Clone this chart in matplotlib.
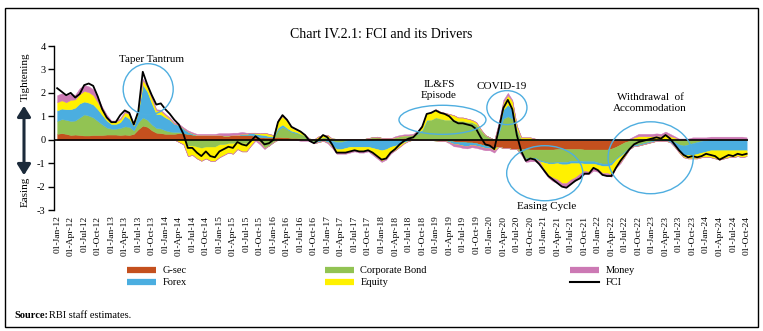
import matplotlib
matplotlib.use("Agg")
import matplotlib.pyplot as plt
import numpy as np
from matplotlib.patches import Ellipse, Rectangle, FancyArrowPatch
from matplotlib.lines import Line2D

plt.rcParams['font.family'] = ['Liberation Serif', 'DejaVu Serif']
plt.rcParams['axes.unicode_minus'] = False

# ---------------- data (monthly, Jan-2012 .. Oct-2024) ----------------
gsec = [0.25,0.28,0.25,0.2,0.22,0.2,0.18,0.18,0.2,0.2,0.2,0.22,
        0.22,0.22,0.2,0.22,0.2,0.25,0.45,0.6,0.55,0.4,0.3,0.28,
        0.25,0.25,0.25,0.28,0.28,0.25,0.22,0.2,0.2,0.2,0.2,0.2,
        0.2,0.18,0.18,0.2,0.2,0.2,0.2,0.2,0.15,0.12,0.1,0.1,
        0.1,0.12,0.1,0.1,0.08,0.08,0.05,0.02,0.0,0.02,0.05,0.05,
        0.05,0.05,0.04,0.03,0.02,0.02,0.02,0.02,0.03,0.05,0.06,0.08,
        0.08,0.08,0.06,0.05,0.05,0.08,0.08,0.06,0.05,0.03,0.0,-0.02,
        -0.03,-0.05,-0.05,-0.05,-0.08,-0.1,-0.1,-0.12,-0.12,-0.15,-0.2,-0.25,
        -0.3,-0.35,-0.3,-0.35,-0.35,-0.4,-0.4,-0.4,-0.4,-0.42,-0.42,-0.42,
        -0.42,-0.42,-0.42,-0.4,-0.4,-0.4,-0.4,-0.4,-0.4,-0.42,-0.42,-0.42,
        -0.42,-0.42,-0.42,-0.38,-0.3,-0.2,-0.1,-0.05,-0.02,0.0,0.0,0.0,
        0.0,0.02,0.0,0.0,0.0,0.0,0.0,0.0,0.0,0.0,0.0,0.0,
        0.0,0.0,0.0,0.0,0.0,0.0,0.0,0.0,0.0,0.0]

corp_bond = [0.55,0.6,0.6,0.6,0.6,0.75,0.9,0.85,0.75,0.6,0.45,0.3,
             0.25,0.25,0.3,0.35,0.35,0.15,0.3,0.35,0.3,0.25,0.2,0.2,
             0.15,0.1,0.08,0.05,0.0,-0.25,-0.25,-0.3,-0.35,-0.3,-0.3,-0.3,
             -0.2,-0.2,-0.15,-0.15,-0.1,-0.15,-0.15,-0.05,0.0,-0.1,-0.35,-0.25,
             -0.1,0.3,0.45,0.35,0.25,0.2,0.2,0.15,0.05,-0.1,-0.05,0.05,
             0.05,-0.05,-0.1,-0.1,-0.05,0.0,0.0,0.0,0.0,0.02,0.05,0.05,
             0.0,0.0,0.0,0.05,0.1,0.1,0.1,0.15,0.2,0.35,0.8,0.85,
             0.95,0.9,0.85,0.85,0.85,0.8,0.8,0.75,0.75,0.65,0.4,0.2,
             0.1,0.0,0.3,0.9,1.0,0.9,0.4,-0.2,-0.4,-0.35,-0.35,-0.45,
             -0.5,-0.55,-0.55,-0.55,-0.55,-0.55,-0.5,-0.5,-0.5,-0.5,-0.5,-0.5,
             -0.55,-0.6,-0.6,-0.6,-0.5,-0.45,-0.4,-0.3,-0.2,-0.2,-0.15,-0.1,
             -0.05,0.0,0.0,0.05,0.0,-0.1,-0.2,-0.25,-0.2,-0.15,-0.1,-0.05,
             0.0,0.03,0.03,0.03,0.03,0.03,0.03,0.03,0.03,0.0]

forex = [0.45,0.45,0.45,0.5,0.55,0.6,0.55,0.55,0.55,0.5,0.4,0.3,
         0.2,0.2,0.25,0.45,0.35,0.2,0.45,1.4,1.2,0.9,0.6,0.6,
         0.55,0.5,0.35,0.3,0.2,0.1,0.05,0.0,0.0,0.0,0.0,0.0,
         0.0,0.0,0.0,0.0,0.0,0.05,0.05,0.1,0.1,0.1,0.1,0.05,
         0.05,0.1,0.1,0.05,0.05,0.05,0.0,0.0,0.0,-0.05,-0.05,-0.05,
         -0.1,-0.2,-0.3,-0.3,-0.3,-0.3,-0.3,-0.3,-0.3,-0.3,-0.35,-0.4,
         -0.45,-0.4,-0.3,-0.25,-0.2,-0.1,-0.05,0.0,0.05,0.05,0.05,0.0,
         0.0,0.0,0.0,-0.05,-0.1,-0.1,-0.15,-0.15,-0.1,-0.1,-0.1,-0.1,
         -0.05,0.0,0.2,0.4,0.5,0.4,0.05,0.0,-0.05,-0.05,-0.05,-0.05,
         -0.05,-0.05,-0.05,-0.05,-0.1,-0.1,-0.1,-0.1,-0.1,-0.1,-0.1,-0.1,
         -0.1,-0.1,-0.1,-0.1,-0.05,-0.05,-0.05,-0.05,-0.05,-0.05,-0.05,-0.05,
         -0.05,-0.05,-0.05,-0.05,-0.1,-0.2,-0.3,-0.4,-0.45,-0.5,-0.5,-0.5,
         -0.5,-0.45,-0.45,-0.45,-0.45,-0.45,-0.45,-0.45,-0.45,-0.45]

equity = [0.35,0.35,0.3,0.4,0.35,0.4,0.45,0.45,0.4,0.3,0.2,0.15,
          0.1,0.1,0.12,0.15,0.2,0.05,0.1,0.2,0.2,0.2,0.15,0.15,
          0.1,0.05,0.0,-0.1,-0.2,-0.45,-0.4,-0.5,-0.55,-0.5,-0.6,-0.6,
          -0.55,-0.45,-0.4,-0.45,-0.3,-0.35,-0.35,-0.2,0.05,0.05,0.1,0.1,
          0.05,0.3,0.35,0.3,0.15,0.1,0.1,0.05,0.0,0.0,0.1,0.1,
          0.1,-0.05,-0.15,-0.15,-0.2,-0.2,-0.15,-0.2,-0.2,-0.15,-0.25,-0.35,
          -0.45,-0.4,-0.25,-0.2,-0.1,-0.05,0.0,0.0,0.05,0.2,0.3,0.3,
          0.35,0.3,0.3,0.25,0.2,0.15,0.15,0.15,0.1,0.1,0.05,0.0,
          0.0,-0.1,0.2,0.3,0.4,0.35,0.15,0.1,0.1,0.1,0.05,0.0,
          -0.3,-0.5,-0.6,-0.7,-0.8,-0.8,-0.7,-0.6,-0.45,-0.3,-0.35,-0.2,
          -0.2,-0.3,-0.3,-0.4,-0.3,-0.25,-0.15,0.0,0.1,0.15,0.15,0.15,
          0.15,0.15,0.15,0.2,0.15,0.1,-0.05,-0.1,-0.15,-0.15,-0.2,-0.2,
          -0.25,-0.3,-0.35,-0.4,-0.35,-0.3,-0.3,-0.25,-0.3,-0.25]

money = [0.3,0.3,0.3,0.25,0.2,0.25,0.25,0.25,0.25,0.2,0.15,0.1,
         0.05,0.05,0.05,0.05,0.05,0.05,0.05,0.05,0.05,0.05,0.05,0.05,
         0.05,0.05,0.05,0.05,0.05,0.05,0.05,0.05,0.05,0.05,0.05,0.05,
         0.08,0.1,0.1,0.1,0.1,0.08,0.05,0.0,-0.05,-0.1,-0.05,0.0,
         0.0,0.05,0.05,0.05,0.0,0.0,-0.05,-0.05,-0.05,0.0,0.0,0.0,
         -0.05,-0.05,-0.05,-0.05,-0.05,-0.05,-0.05,-0.05,-0.05,-0.05,-0.05,-0.05,
         -0.05,-0.05,-0.05,0.05,0.05,0.05,0.05,0.05,0.05,0.0,0.0,0.0,
         0.0,0.0,0.0,-0.05,-0.1,-0.1,-0.1,-0.1,-0.1,-0.1,-0.1,-0.1,
         -0.1,-0.1,0.05,0.1,0.1,0.05,0.0,-0.05,-0.1,-0.1,-0.1,-0.1,
         -0.1,-0.1,-0.15,-0.15,-0.15,-0.15,-0.15,-0.15,-0.15,-0.15,-0.1,-0.1,
         -0.1,-0.1,-0.1,-0.1,-0.05,-0.05,0.0,0.05,0.05,0.1,0.1,0.1,
         0.1,0.1,0.1,0.1,0.1,0.05,0.05,0.05,0.05,0.1,0.1,0.1,
         0.1,0.1,0.1,0.1,0.1,0.1,0.1,0.1,0.1,0.1]

fci = [2.2,2.05,1.9,2.0,1.8,1.95,2.33,2.4,2.3,1.85,1.3,0.95,
       0.75,0.75,1.05,1.25,1.15,0.65,1.2,2.9,2.35,1.9,1.5,1.55,
       1.3,1.1,0.85,0.65,0.25,-0.35,-0.35,-0.55,-0.7,-0.5,-0.7,-0.75,
       -0.5,-0.4,-0.3,-0.35,-0.1,-0.2,-0.25,-0.05,0.15,0.0,-0.2,-0.15,
       0.0,0.75,1.05,0.85,0.55,0.45,0.35,0.2,-0.05,-0.15,0.0,0.2,
       0.1,-0.2,-0.55,-0.55,-0.55,-0.5,-0.45,-0.5,-0.5,-0.45,-0.55,-0.7,
       -0.85,-0.8,-0.55,-0.4,-0.2,-0.05,0.05,0.1,0.3,0.55,1.1,1.15,
       1.25,1.15,1.1,1.0,0.8,0.7,0.7,0.65,0.6,0.45,0.1,-0.2,
       -0.25,-0.4,0.45,1.35,1.7,1.3,0.2,-0.5,-0.9,-0.8,-0.85,-1.05,
       -1.3,-1.55,-1.7,-1.85,-2.0,-2.05,-1.9,-1.75,-1.65,-1.45,-1.45,-1.2,
       -1.3,-1.5,-1.55,-1.55,-1.2,-0.9,-0.65,-0.4,-0.2,-0.1,-0.05,0.0,
       0.05,0.1,0.05,0.2,0.05,-0.2,-0.45,-0.65,-0.75,-0.7,-0.75,-0.7,
       -0.6,-0.65,-0.7,-0.85,-0.75,-0.65,-0.7,-0.6,-0.65,-0.6]

months = np.arange(len(fci))
tick_labels = [f"01-{m}-{y:02d}" for y in range(12, 25) for m in ("Jan", "Apr", "Jul", "Oct")]
tick_pos = months[::3]

# ---------------- styling ----------------
colors = {"G-sec": "#C4501E", "Corporate Bond": "#92C353", "Forex": "#4BAEE0",
          "Equity": "#FFF100", "Money": "#CC79B4"}
ell_color = "#4FAEE0"

fig = plt.figure(figsize=(7.63, 3.31), dpi=100)
ax = fig.add_axes([54/763, 1-210/331, 694/763, 164/331])
ax.set_xlim(-0.7, 153.3)
ax.set_ylim(-3, 4)

stack = [("G-sec", gsec), ("Corporate Bond", corp_bond), ("Forex", forex),
         ("Equity", equity), ("Money", money)]
pos_base = np.zeros(len(months))
neg_base = np.zeros(len(months))
for name, vals in stack:
    v = np.asarray(vals, dtype=float)
    p = np.clip(v, 0, None)
    n = np.clip(v, None, 0)
    ax.fill_between(months, pos_base, pos_base + p, color=colors[name], lw=0.3, zorder=2)
    ax.fill_between(months, neg_base, neg_base + n, color=colors[name], lw=0.3, zorder=2)
    pos_base = pos_base + p
    neg_base = neg_base + n

ax.plot([-0.7, 153.3], [0, 0], color="black", lw=1.2, zorder=3)
ax.plot(months, fci, color="black", lw=1.3, zorder=4)

for s in ("top", "right", "bottom"):
    ax.spines[s].set_visible(False)
ax.spines["left"].set_linewidth(1.0)
ax.set_yticks(range(-3, 5))
ax.tick_params(axis="y", direction="out", length=4, width=1, labelsize=7.5, pad=2)
ax.set_xticks(tick_pos)
ax.set_xticklabels(tick_labels, rotation=90, fontsize=6.8)
ax.tick_params(axis="x", length=0, pad=4)

# ellipses and annotations
ellipses = [(20.2, 2.155, 11.1, 2.18), (85.5, 0.85, 19.3, 1.24), (99.8, 1.37, 8.9, 1.45),
            (108.2, -1.43, 16.9, 2.35), (131.7, -0.77, 18.9, 3.07)]
for cx, cy, w, h in ellipses:
    ax.add_patch(Ellipse((cx, cy), w, h, fill=False, ec=ell_color, lw=1.0, zorder=5))

notes = [(21.0, 3.44, "Taper Tantrum"), (84.7, 2.13, "IL&FS\nEpisode"), (98.7, 2.27, "COVID-19"),
         (108.7, -2.85, "Easing Cycle"), (131.6, 1.55, "Withdrawal  of\nAccommodation")]
for x, y, t in notes:
    ax.text(x, y, t, ha="center", va="center", fontsize=8, linespacing=1.3, zorder=6)

# y-axis direction label
fig.text(25/763, 1-77/331, "Tightening", rotation=90, ha="center", va="center", fontsize=8)
fig.text(25/763, 1-192/331, "Easing", rotation=90, ha="center", va="center", fontsize=8)
arr = FancyArrowPatch((24/763, 1-103/331), (24/763, 1-178/331), transform=fig.transFigure,
                      arrowstyle="<|-|>,head_length=0.8,head_width=0.5", mutation_scale=8,
                      lw=2.2, color="#1B2A3A")
fig.patches.append(arr)

# title
fig.text(0.5, 1-34/331, "Chart IV.2.1: FCI and its Drivers", ha="center", va="center", fontsize=10)

# legends
def make_leg(entries, x):
    handles = []
    for name in entries:
        if name == "FCI":
            handles.append(Line2D([], [], color="black", lw=1.5))
        else:
            handles.append(Line2D([], [], color=colors[name], lw=4.5, solid_capstyle="butt"))
    leg = fig.legend(handles, entries, loc="upper left", bbox_to_anchor=(x/763, 1-266/331),
                     frameon=False, fontsize=7.5, handlelength=2.8, handletextpad=0.6,
                     borderpad=0, borderaxespad=0, labelspacing=0.25)
    return leg

make_leg(["G-sec", "Forex"], 127)
make_leg(["Corporate Bond", "Equity"], 325)
make_leg(["Money", "FCI"], 570)

fig.text(14/763, 1-316/331, "Source:", fontsize=7.5, fontweight="bold", va="center")
fig.text(49/763, 1-316/331, "RBI staff estimates.", fontsize=7.5, va="center")

fig.patches.append(Rectangle((5/763, 4/331), 753/763, 319/331, transform=fig.transFigure,
                             fill=False, ec="black", lw=1.0))

fig.savefig("out.png", dpi=100)
